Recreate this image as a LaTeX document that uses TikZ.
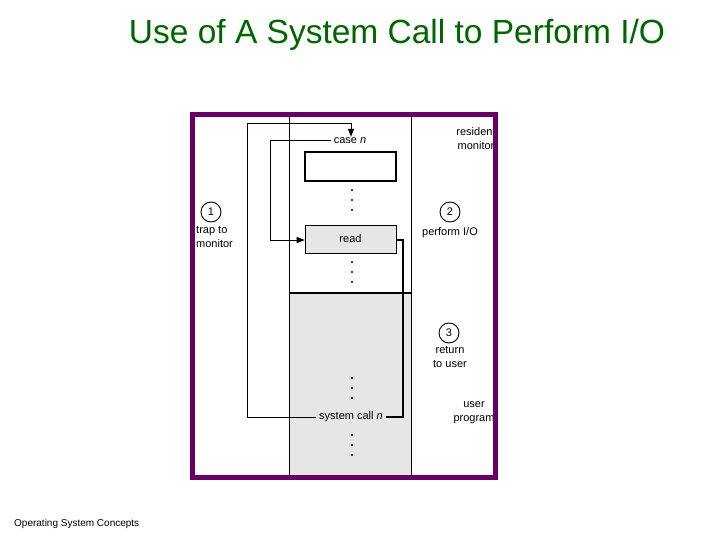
\documentclass[tikz,border=0pt]{standalone}
\usepackage{fontspec}
\setmainfont{Liberation Sans}
\usetikzlibrary{arrows.meta}
\definecolor{frame}{HTML}{660066}
\definecolor{ttl}{HTML}{006600}
\definecolor{mem}{HTML}{E6E6E6}
\begin{document}
\begin{tikzpicture}[x=1pt,y=-1pt,
  lbl/.style={font=\fontsize{11}{14.5}\selectfont,inner sep=0pt},
  circ/.style={circle,draw,line width=0.9pt,inner sep=1pt,minimum size=20pt,font=\fontsize{11}{12}\selectfont},
  dotn/.style={circle,fill,inner sep=0pt,minimum size=2.4pt},
  conn/.style={line width=1pt},
  thk/.style={line width=2pt}]
\useasboundingbox (0,0) rectangle (720,540);
\node[font=\fontsize{33.5}{36}\selectfont,text=ttl] (title) at (397,35) {Use of A System Call to Perform I/O};
\node[font=\fontsize{10}{11}\selectfont,anchor=west,inner sep=0pt] (foot) at (14,524) {Operating System Concepts};
% memory
\fill[mem] (289,293) rectangle (411,477);
\draw[line width=1pt] (289,115) -- (289,477);
\draw[line width=1pt] (411,115) -- (411,477);
\draw[thk] (289,293) -- (411,293);
\node[draw,line width=2pt,fill=white,minimum width=91pt,minimum height=29pt,inner sep=0pt] (box) at (350.5,166.5) {};
\node[draw,line width=0.6pt,fill=mem,minimum width=91pt,minimum height=28pt,inner sep=0pt,font=\fontsize{11}{12}\selectfont] (read) at (350.5,239) {read};
\node[lbl,fill=white,inner xsep=3pt,inner ysep=1pt] (casen) at (350,141) {case \textit{n}};
\node[lbl,fill=mem,inner xsep=3pt,inner ysep=1pt] (sys) at (351,417) {system call \textit{n}};
\foreach \y in {190,200,210,262,272,282,378,388,398,435,445,455}
  \node[dotn] at (352,\y) {};
% connectors
\coordinate (a1) at (247,417);
\coordinate (a2) at (247,124);
\coordinate (a3) at (351,124);
\draw[conn,-{Triangle[length=8pt,width=6pt]}] (sys.west) -- (a1) -- (a2) -- (a3) -- (a3 |- casen.north);
\coordinate (b1) at (270,141);
\coordinate (b2) at (270,240);
\draw[conn,-{Triangle[length=8pt,width=6pt]}] (casen.west) -- (b1) -- (b2) -- (read.west |- b2);
\coordinate (c1) at (403,240);
\coordinate (c2) at (403,417);
\draw[thk] (read.east |- c1) -- (c1) -- (c2) -- (sys.east);
% labels
\node[circ] (n1) at (211,212) {1};
\node[lbl,align=left,anchor=north west] (l1) at (196,226) {trap to\\monitor};
\node[circ] (n2) at (450,212) {2};
\node[lbl] (l2) at (450,233) {perform I/O};
\node[circ] (n3) at (449,333) {3};
\node[lbl,align=center,anchor=north] (l3) at (450,346) {return\\to user};
\node[lbl,align=center,anchor=north] (l4) at (476,127) {resident\\monitor};
\node[lbl,align=center,anchor=north] (l5) at (474,401) {user\\program};
% frame
\draw[frame,line width=5pt] (192.5,114.5) rectangle (495.5,477.5);
\end{tikzpicture}
\end{document}
